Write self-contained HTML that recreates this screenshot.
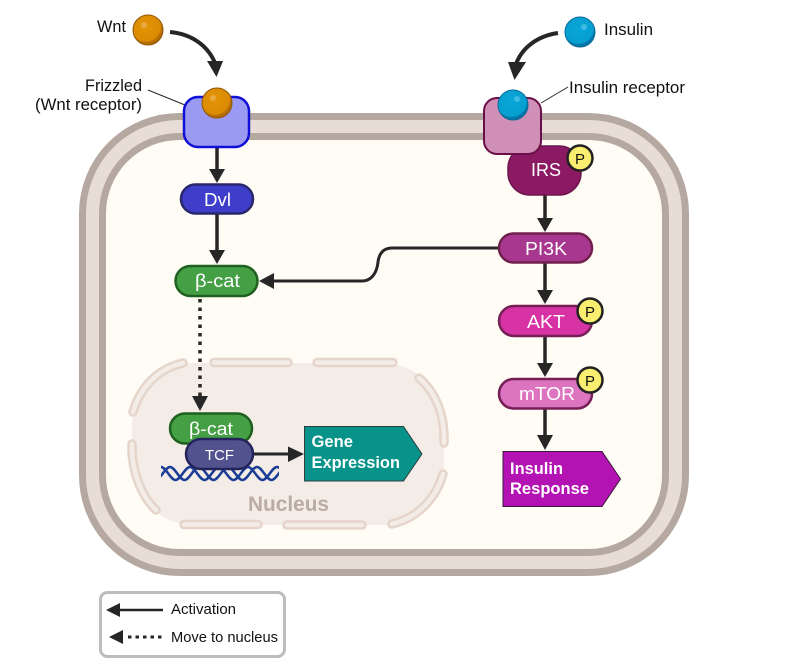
<!DOCTYPE html>
<html><head><meta charset="utf-8"><style>
html,body{margin:0;padding:0;background:#fff}
svg{display:block}
text{font-family:"Liberation Sans",sans-serif}
</style></head><body>
<svg width="800" height="672" viewBox="0 0 800 672" xmlns="http://www.w3.org/2000/svg">
<defs>
<radialGradient id="o" cx="0.42" cy="0.38" r="0.62"><stop offset="0" stop-color="#e39406"/><stop offset="0.8" stop-color="#da8b02"/><stop offset="0.86" stop-color="#b86f02"/><stop offset="1" stop-color="#b06a02"/></radialGradient>
<radialGradient id="b" cx="0.45" cy="0.38" r="0.62"><stop offset="0" stop-color="#0aa6d8"/><stop offset="0.8" stop-color="#059fd0"/><stop offset="0.86" stop-color="#0679ad"/><stop offset="1" stop-color="#0673a6"/></radialGradient>
<clipPath id="dna"><rect x="161" y="460" width="118" height="25"/></clipPath>
</defs>
<!-- cell -->
<rect x="92.5" y="126.5" width="583" height="436" rx="87" fill="#fffcf5" stroke="#b5a8a1" stroke-width="27"/>
<rect x="92.5" y="126.5" width="583" height="436" rx="87" fill="none" stroke="#e7dcd6" stroke-width="13"/>
<!-- nucleus -->
<rect x="132" y="363" width="312" height="162" rx="62" fill="#f4ece6"/>
<g fill="none" stroke-linecap="round">
<g stroke="#e5d5ca" stroke-width="9.500">
<path d="M183 363C157 369 140 388 133 412"/>
<path d="M214 362.500H288"/><path d="M317 362.500H393"/>
<path d="M419 378C434 391 445 412 444 443"/>
<path d="M132 444C131 470 141 496 156 510"/>
<path d="M184 524.500H258"/><path d="M287 525H362"/>
<path d="M392 524C417 518 436 499 443 474"/>
</g>
<g stroke="#f4ece6" stroke-width="4.500">
<path d="M183 363C157 369 140 388 133 412"/>
<path d="M214 362.500H288"/><path d="M317 362.500H393"/>
<path d="M419 378C434 391 445 412 444 443"/>
<path d="M132 444C131 470 141 496 156 510"/>
<path d="M184 524.500H258"/><path d="M287 525H362"/>
<path d="M392 524C417 518 436 499 443 474"/>
</g>
</g>
<text x="248" y="511" font-size="21" font-weight="700" fill="#bbaca3" textLength="81" lengthAdjust="spacingAndGlyphs">Nucleus</text>
<!-- connectors -->
<g fill="none" stroke="#262626" stroke-width="3.5">
<path d="M170 32C192 34 208 46 215 63" stroke-width="4"/>
<path d="M558 33C537 36 522 48 516 64" stroke-width="4"/>
<path d="M217 146V172"/>
<path d="M217 214V252"/>
<path d="M545 194V220"/>
<path d="M545 262V292"/>
<path d="M545 336V365"/>
<path d="M545 409V437"/>
<path d="M500 248H392C383 248 379 254 378 262C377 272 372 281 362 281H272" stroke-width="3"/>
<path d="M200 299V398" stroke-width="3.5" stroke-dasharray="3.5 5"/>
<path d="M250 454H290" stroke-width="3"/>
</g>
<g fill="#262626">
<path d="M207 61L223 61L216.500 77Z"/>
<path d="M508 62L526 62L514.500 80Z"/>
<path d="M209 169H225L217 183Z"/>
<path d="M209 250H225L217 264Z"/>
<path d="M537 218H553L545 232Z"/>
<path d="M537 290H553L545 304Z"/>
<path d="M537 363H553L545 377Z"/>
<path d="M537 435H553L545 450Z"/>
<path d="M259 281L274 273V289Z"/>
<path d="M192 396H208L200 411Z"/>
<path d="M288 446.500V462L304 454Z"/>
</g>
<!-- leader lines -->
<path d="M148 90L185 105" stroke="#262626" stroke-width="1" fill="none"/>
<path d="M541 103L568 87" stroke="#262626" stroke-width="1" fill="none"/>
<!-- Receptors -->
<rect x="184" y="97" width="65" height="50" rx="14" fill="#9a9af3" stroke="#1010d8" stroke-width="2.5"/>
<rect x="508" y="146" width="73" height="49" rx="22" fill="#8c1a63" stroke="#6d164f" stroke-width="1.5"/>
<rect x="484" y="98" width="57" height="56" rx="13" fill="#cf8fb7" stroke="#6b0f48" stroke-width="2"/>
<!-- ligands -->
<circle cx="148" cy="30" r="15" fill="url(#o)" stroke="#8f5604" stroke-width="1"/><circle cx="144" cy="25" r="3" fill="#eaaa3f"/>
<circle cx="217" cy="103" r="15" fill="url(#o)" stroke="#8f5604" stroke-width="1"/><circle cx="213" cy="98" r="3" fill="#eaaa3f"/>
<circle cx="580" cy="32" r="15" fill="url(#b)" stroke="#0a6a98" stroke-width="1"/><circle cx="584" cy="27" r="3" fill="#3dbde3"/>
<circle cx="513" cy="105" r="15" fill="url(#b)" stroke="#0a6a98" stroke-width="1"/><circle cx="517" cy="99" r="3" fill="#3dbde3"/>
<!-- pills -->
<rect x="181" y="184.500" width="72" height="29" rx="14.500" fill="#3e3ecb" stroke="#29276b" stroke-width="2.500"/>
<rect x="175.500" y="266" width="82" height="30" rx="15" fill="#45a045" stroke="#1f5f1f" stroke-width="2.500"/>
<rect x="170" y="413.500" width="82" height="30" rx="15" fill="#45a045" stroke="#1f5f1f" stroke-width="2.500"/>
<rect x="499" y="233.500" width="93" height="29" rx="14.500" fill="#a83790" stroke="#70204f" stroke-width="2.500"/>
<rect x="499" y="306" width="93" height="30" rx="15" fill="#d733a5" stroke="#751f56" stroke-width="2.500"/>
<rect x="499" y="379" width="93" height="29.500" rx="14.700" fill="#dc74c0" stroke="#751f56" stroke-width="2.500"/>
<!-- DNA -->
<g fill="none" stroke="#1a3d96" stroke-width="2.5" clip-path="url(#dna)">
<path d="M161 467C166 467 170.500 480 175.500 480S185 467 190 467S199.500 480 204.500 480S214 467 219 467S228.500 480 233.500 480S243 467 248 467S257.500 480 262.500 480S272 467 277 467S286.500 480 291.500 480"/>
<path d="M155.500 480C160.500 480 165 467 170 467S179.500 480 184.500 480S194 467 199 467S208.500 480 213.500 480S223 467 228 467S237.500 480 242.500 480S252 467 257 467S266.500 480 271.500 480S281 467 286 467"/>
</g>
<rect x="186" y="439" width="67" height="30" rx="15" fill="#52528f" stroke="#24245c" stroke-width="2.500"/>
<!-- boxes -->
<path d="M304.500 426.500H403.500L422 454L403.500 481H304.500Z" fill="#07938a" stroke="#2c3f3d" stroke-width="1"/>
<path d="M503 451.500H602L620.500 479L602 506.500H503Z" fill="#b313b3" stroke="#3a1a3a" stroke-width="1"/>
<!-- P badges -->
<g fill="#faee70" stroke="#222" stroke-width="2.500">
<circle cx="580" cy="158" r="12.500"/><circle cx="590" cy="311" r="12.500"/><circle cx="590" cy="380" r="12.500"/>
</g>
<g font-size="15" fill="#111" text-anchor="middle">
<text x="580" y="164">P</text><text x="590" y="317">P</text><text x="590" y="386">P</text>
</g>
<!-- pill labels -->
<g fill="#fff" font-size="18.500">
<text x="204" y="206" textLength="27" lengthAdjust="spacingAndGlyphs">Dvl</text>
<text x="195" y="287" textLength="45" lengthAdjust="spacingAndGlyphs">β-cat</text>
<text x="189" y="435" textLength="44" lengthAdjust="spacingAndGlyphs">β-cat</text>
<text x="205" y="460" font-size="14.500" textLength="29" lengthAdjust="spacingAndGlyphs">TCF</text>
<text x="531" y="176" textLength="30" lengthAdjust="spacingAndGlyphs">IRS</text>
<text x="525" y="255" textLength="42" lengthAdjust="spacingAndGlyphs">PI3K</text>
<text x="527" y="328" textLength="38" lengthAdjust="spacingAndGlyphs">AKT</text>
<text x="519" y="400" textLength="56" lengthAdjust="spacingAndGlyphs">mTOR</text>
</g>
<g fill="#fff" font-size="16.500" font-weight="700">
<text x="311.500" y="447" textLength="41.500" lengthAdjust="spacingAndGlyphs">Gene</text><text x="311.500" y="468" textLength="88.500" lengthAdjust="spacingAndGlyphs">Expression</text>
<text x="510" y="474" textLength="53" lengthAdjust="spacingAndGlyphs">Insulin</text><text x="510" y="494" textLength="79" lengthAdjust="spacingAndGlyphs">Response</text>
</g>
<!-- outside labels -->
<g fill="#111" font-size="16.500">
<text x="97" y="32" textLength="29" lengthAdjust="spacingAndGlyphs">Wnt</text>
<text x="604" y="35" textLength="49" lengthAdjust="spacingAndGlyphs">Insulin</text>
<text x="569" y="93" textLength="116" lengthAdjust="spacingAndGlyphs">Insulin receptor</text>
<text x="85" y="91" textLength="57" lengthAdjust="spacingAndGlyphs">Frizzled</text>
<text x="35" y="110" textLength="107" lengthAdjust="spacingAndGlyphs">(Wnt receptor)</text>
</g>
<!-- legend -->
<rect x="100.500" y="592.500" width="184" height="64" rx="7" fill="#fff" stroke="#bcbcbc" stroke-width="3"/>
<path d="M118 610H163" stroke="#262626" stroke-width="2.500"/>
<path d="M106 610L120 603V617Z" fill="#262626"/>
<path d="M128 637H163" stroke="#262626" stroke-width="3" stroke-dasharray="3.500 4"/>
<path d="M109 637L123 630V644Z" fill="#262626"/>
<g fill="#111" font-size="14.500">
<text x="171" y="614" textLength="65" lengthAdjust="spacingAndGlyphs">Activation</text>
<text x="171" y="642" textLength="107" lengthAdjust="spacingAndGlyphs">Move to nucleus</text>
</g>
</svg>
</body></html>
